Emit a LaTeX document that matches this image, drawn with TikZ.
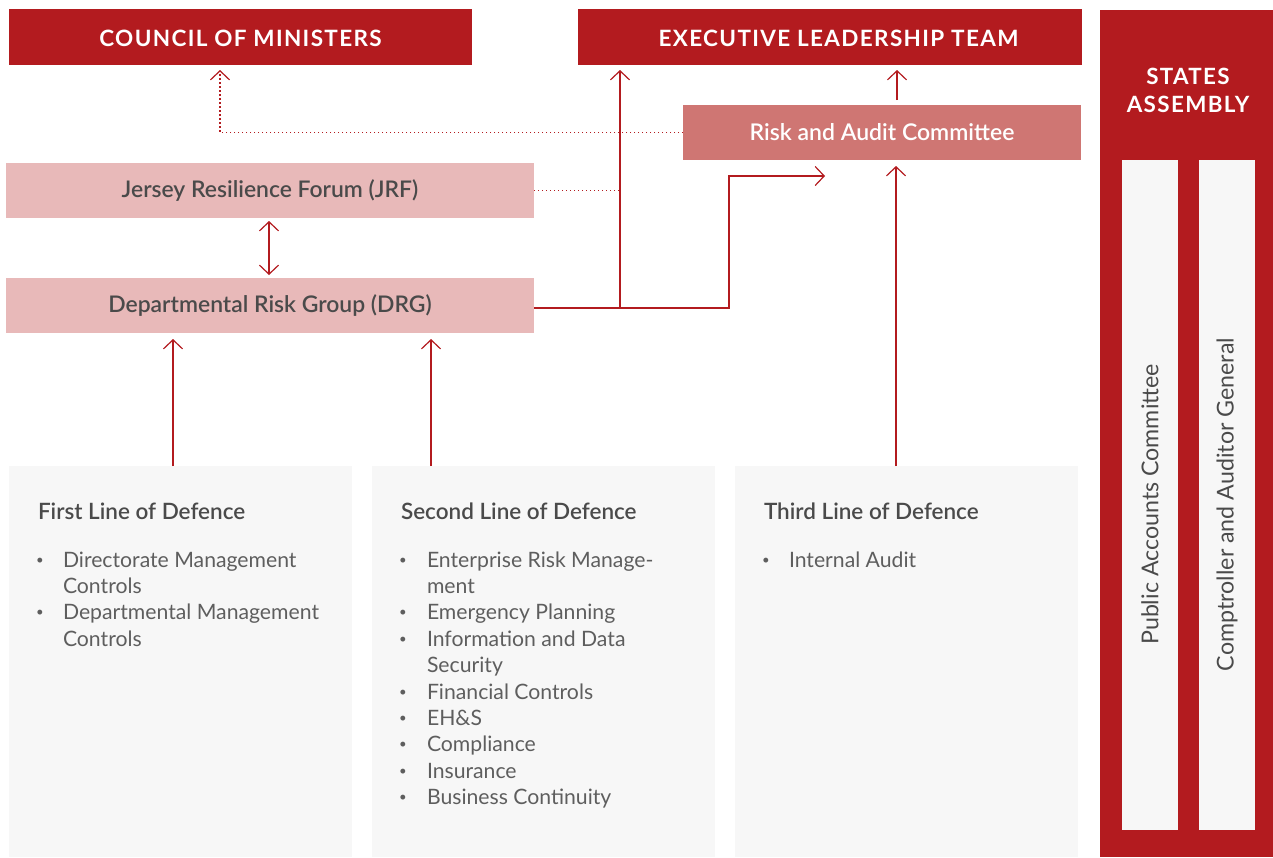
\documentclass[tikz,border=0pt]{standalone}
\usepackage{fontspec}
\setmainfont{Lato}
\newfontfamily\capsfont[LetterSpace=6]{Lato}
\IfFontExistsTF{Lato Semibold}
  {\newfontfamily\semifont{Lato Semibold}}
  {\newfontfamily\semifont{Lato}}
\usetikzlibrary{arrows.meta}

\definecolor{brick}{HTML}{B31B1F}
\definecolor{rose}{HTML}{CF7673}
\definecolor{blush}{HTML}{E8B9B9}
\definecolor{paper}{HTML}{F7F7F7}
\definecolor{ink}{HTML}{4A4A4A}
\definecolor{softink}{HTML}{5E5E5E}

\newcommand{\bul}{\raisebox{0.28ex}{\scalebox{0.62}{•}}}

\begin{document}
\begin{tikzpicture}[x=1pt,y=-1pt,
  every node/.style={inner sep=0pt,outer sep=0pt},
  headbox/.style={fill=brick},
  headtext/.style={text=white,font=\capsfont\bfseries\fontsize{22.5}{26}\selectfont},
  pinkbox/.style={fill=blush,text=ink,font=\semifont\fontsize{22.9}{26}\selectfont},
  racbox/.style={fill=rose,text=white,font=\semifont\fontsize{23}{26}\selectfont},
  linebox/.style={fill=paper},
  sidecol/.style={fill=paper},
  sidetext/.style={rotate=90,text=ink,font=\fontsize{23.2}{26}\selectfont},
  conn/.style={draw=brick,line width=1.2pt},
  arr/.style={conn,-{Straight Barb[length=9pt,width=19pt,line width=1.2pt]}},
  biarr/.style={conn,{Straight Barb[length=9pt,width=19pt,line width=1.2pt]}-{Straight Barb[length=9pt,width=19pt,line width=1.2pt]}},
  dots/.style={conn,dash pattern=on 1.2pt off 2.8pt},
  dotarr/.style={dots,-{Straight Barb[length=9pt,width=19pt,line width=1.2pt]}},
  ttl/.style={anchor=base west,text=ink,font=\semifont\fontsize{22.5}{26.4}\selectfont},
  lst/.style={anchor=base west,text=softink,font=\fontsize{21.2}{26.4}\selectfont},
]
\useasboundingbox (0,0) rectangle (1273,857);

% top level boxes
\node[headbox,minimum width=463pt,minimum height=56pt,anchor=north west] (com) at (9,9) {};
\node[headtext] (comtext) at ([yshift=-1.5pt]com.center) {COUNCIL OF MINISTERS};
\node[headbox,minimum width=504pt,minimum height=56pt,anchor=north west] (elt) at (578,9) {};
\node[headtext] (elttext) at ([xshift=8.5pt,yshift=-1.5pt]elt.center) {EXECUTIVE LEADERSHIP TEAM};

% States Assembly column
\node[fill=brick,minimum width=173pt,minimum height=847pt,anchor=north west] (sa) at (1100,10) {};
\node[text=white,font=\capsfont\bfseries\fontsize{22.4}{28}\selectfont,align=center] (satitle) at (1188,90) {STATES\\ASSEMBLY};
\node[sidecol,minimum width=56pt,minimum height=670pt,anchor=north west] (pac) at (1122,160) {};
\node[sidecol,minimum width=56pt,minimum height=670pt,anchor=north west] (cag) at (1199,160) {};
\node[sidetext] (pactext) at ([yshift=-9.5pt]pac.center) {Public Accounts Committee};
\node[sidetext] (cagtext) at ([yshift=-9.5pt]cag.center) {Comptroller and Auditor General};

% committees and groups
\node[racbox,minimum width=398pt,minimum height=55pt,anchor=north west] (rac) at (683,105) {Risk and Audit Committee};
\node[pinkbox,minimum width=528pt,minimum height=55pt,anchor=north west] (jrf) at (6,163) {Jersey Resilience Forum (JRF)};
\node[pinkbox,minimum width=528pt,minimum height=55pt,anchor=north west] (drg) at (6,278) {Departmental Risk Group (DRG)};

% lines of defence
\node[linebox,minimum width=343pt,minimum height=391pt,anchor=north west] (first) at (9,466) {};
\node[linebox,minimum width=343pt,minimum height=391pt,anchor=north west] (second) at (372,466) {};
\node[linebox,minimum width=343pt,minimum height=391pt,anchor=north west] (third) at (735,466) {};

\node[ttl] (t1) at (38,519) {First Line of Defence};
\node[ttl] (t2) at (401,519) {Second Line of Defence};
\node[ttl] (t3) at (764,519) {Third Line of Defence};

\node[lst] (l1) at (36,567) {\begin{tabular}[t]{@{}p{27pt}@{}l@{}}
\bul & Directorate Management\\
 & Controls\\
\bul & Departmental Management\\
 & Controls
\end{tabular}};
\node[lst] (l2) at (399,567) {\begin{tabular}[t]{@{}p{28pt}@{}l@{}}
\bul & Enterprise Risk Manage-\\
 & ment\\
\bul & Emergency Planning\\
\bul & Information and Data\\
 & Security\\
\bul & Financial Controls\\
\bul & EH\&S\\
\bul & Compliance\\
\bul & Insurance\\
\bul & Business Continuity
\end{tabular}};
\node[lst] (l3) at (762,567) {\begin{tabular}[t]{@{}p{27pt}@{}l@{}}
\bul & Internal Audit
\end{tabular}};

% junction points
\coordinate (split) at (620,308);
\coordinate (bend) at (729,308);
\coordinate (racin) at (825,176);
\coordinate (comin) at (220,65);

% connectors
\draw[dotarr,shorten >=5pt] (rac.west) -| (comin);
\draw[dots] (jrf.east) -- (jrf.east -| split);
\draw[arr,shorten >=5pt] (split) -- (split |- elt.south);
\draw[arr] (bend -| drg.east) -- (bend) |- (racin);
\draw[arr,shorten <=5pt,shorten >=5pt] (rac.north -| 897,0) -- (elt.south -| 897,0);
\draw[biarr,shorten <=3pt,shorten >=3pt] (jrf.south -| 269,0) -- (drg.north -| 269,0);
\draw[arr,shorten >=6pt] (first.north -| 173,0) -- (drg.south -| 173,0);
\draw[arr,shorten >=6pt] (second.north -| 431,0) -- (drg.south -| 431,0);
\draw[arr,shorten >=6pt] (third.north -| 896,0) -- (rac.south -| 896,0);
\end{tikzpicture}
\end{document}
